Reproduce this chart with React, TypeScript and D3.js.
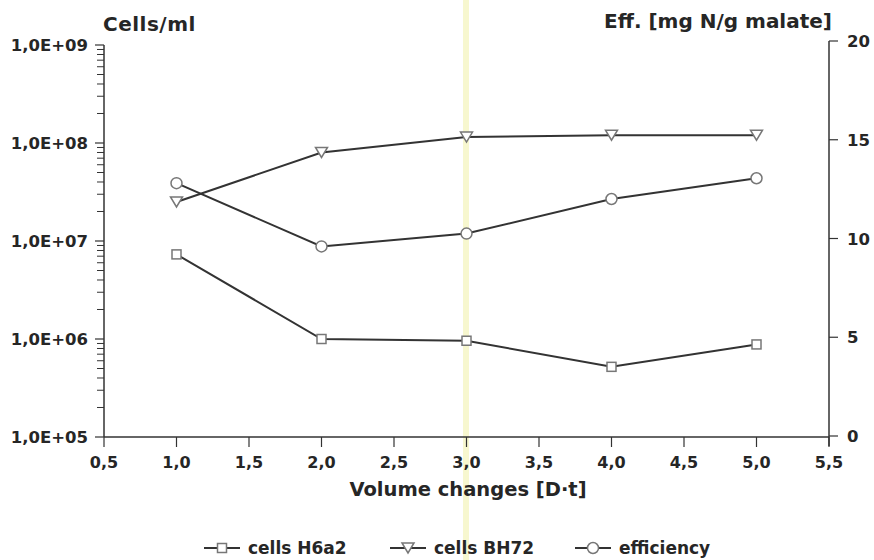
import React from "react";
import * as d3 from "d3";

const xValues = [1, 2, 3, 4, 5];
const cellsH6a2 = [7.3e6, 1.0e6, 9.6e5, 5.2e5, 8.8e5];
const cellsBH72 = [2.5e7, 8.0e7, 1.15e8, 1.2e8, 1.2e8];
const efficiency = [12.8, 9.6, 10.25, 12.0, 13.05];
const xTicks = [0.5, 1.0, 1.5, 2.0, 2.5, 3.0, 3.5, 4.0, 4.5, 5.0, 5.5];
const leftTicks = [1e5, 1e6, 1e7, 1e8, 1e9];
const rightTicks = [0, 5, 10, 15, 20];
const legendLabels = ["cells H6a2", "cells BH72", "efficiency"];

const W = 874;
const H = 560;
const FONT = "'DejaVu Sans', Verdana, sans-serif";
const TXT = "#262626";
const LINE = "#333";
const MARK = "#777";

function fmtLog(v: number) {
  const e = Math.round(Math.log10(v));
  return "1,0E+" + String(e).padStart(2, "0");
}
function fmtX(v: number) {
  return v.toFixed(1).replace(".", ",");
}

function Marker({ type, x, y }: { type: string; x: number; y: number }) {
  if (type === "square")
    return <rect x={x - 4.5} y={y - 4.5} width={9} height={9} fill="white" stroke={MARK} strokeWidth={1.5} />;
  if (type === "tri")
    return (
      <path
        d={`M${x - 6},${y - 5} L${x + 6},${y - 5} L${x},${y + 5} Z`}
        fill="white"
        stroke={MARK}
        strokeWidth={1.5}
      />
    );
  return <circle cx={x} cy={y} r={5.5} fill="white" stroke={MARK} strokeWidth={1.5} />;
}

export default function App() {
  const x = d3.scaleLinear().domain([0.5, 5.5]).range([104, 829]);
  const yL = d3.scaleLog().domain([1e5, 1e9]).range([437, 45]);
  const yR = d3.scaleLinear().domain([0, 20]).range([436, 41]);

  const lineL = d3
    .line<number>()
    .x((_, i) => x(xValues[i]))
    .y((d) => yL(d));
  const lineR = d3
    .line<number>()
    .x((_, i) => x(xValues[i]))
    .y((d) => yR(d));

  const minor: number[] = [];
  for (let e = 5; e < 9; e++) for (let m = 2; m <= 9; m++) minor.push(m * Math.pow(10, e));

  const series = [
    { vals: cellsH6a2, line: lineL, y: yL, type: "square" },
    { vals: cellsBH72, line: lineL, y: yL, type: "tri" },
    { vals: efficiency, line: lineR, y: yR, type: "circle" },
  ];

  const legendItems = [
    { x: 204, tx: 248, type: "square" },
    { x: 390, tx: 434, type: "tri" },
    { x: 575, tx: 619, type: "circle" },
  ];

  return (
    <svg width={W} height={H} style={{ position: "absolute", left: 0, top: 0, background: "white" }} fontFamily={FONT}>
      <rect x={463} y={0} width={6} height={H} fill="#f7f7cf" />
      {/* left axis */}
      <line x1={104} x2={104} y1={45} y2={437} stroke={LINE} strokeWidth={1.5} />
      {leftTicks.map((t) => (
        <g key={t}>
          <line x1={95} x2={104} y1={yL(t)} y2={yL(t)} stroke={LINE} strokeWidth={1.2} />
          <text x={88} y={yL(t) + 6} textAnchor="end" fontSize={16.5} fontWeight="bold" fill={TXT}>
            {fmtLog(t)}
          </text>
        </g>
      ))}
      {minor.map((t) => (
        <line key={t} x1={97} x2={104} y1={yL(t)} y2={yL(t)} stroke={LINE} strokeWidth={1} />
      ))}
      {/* right axis */}
      <line x1={829} x2={829} y1={41} y2={446} stroke={LINE} strokeWidth={1.5} />
      {rightTicks.map((t) => (
        <g key={t}>
          <line x1={829} x2={838} y1={yR(t)} y2={yR(t)} stroke={LINE} strokeWidth={1.2} />
          <text x={847} y={yR(t) + 6} fontSize={16.5} fontWeight="bold" fill={TXT}>
            {t}
          </text>
        </g>
      ))}
      {/* x axis */}
      <line x1={104} x2={829} y1={437} y2={437} stroke={LINE} strokeWidth={1.5} />
      {xTicks.map((t) => (
        <g key={t}>
          <line x1={x(t)} x2={x(t)} y1={437} y2={447} stroke={LINE} strokeWidth={1.2} />
          <text x={x(t)} y={468} textAnchor="middle" fontSize={16} fontWeight="bold" fill={TXT}>
            {fmtX(t)}
          </text>
        </g>
      ))}
      {/* titles */}
      <text x={103} y={31} fontSize={20} fontWeight="bold" fill={TXT} letterSpacing={0.5}>
        Cells/ml
      </text>
      <text x={832} y={28} textAnchor="end" fontSize={20} fontWeight="bold" fill={TXT}>
        Eff. [mg N/g malate]
      </text>
      <text x={468} y={496} textAnchor="middle" fontSize={19.5} fontWeight="bold" fill={TXT}>
        Volume changes [D·t]
      </text>
      {/* series */}
      {series.map((s, si) => (
        <g key={si}>
          <path d={s.line(s.vals) || ""} fill="none" stroke={LINE} strokeWidth={2} />
          {s.vals.map((v, i) => (
            <Marker key={i} type={s.type} x={x(xValues[i])} y={s.y(v)} />
          ))}
        </g>
      ))}
      {/* legend */}
      {legendItems.map((l, i) => (
        <g key={i}>
          <line x1={l.x} x2={l.x + 36} y1={548} y2={548} stroke={LINE} strokeWidth={2} />
          <Marker type={l.type} x={l.x + 18} y={548} />
          <text x={l.tx} y={554} fontSize={17} fontWeight="bold" fill={TXT}>
            {legendLabels[i]}
          </text>
        </g>
      ))}
    </svg>
  );
}
